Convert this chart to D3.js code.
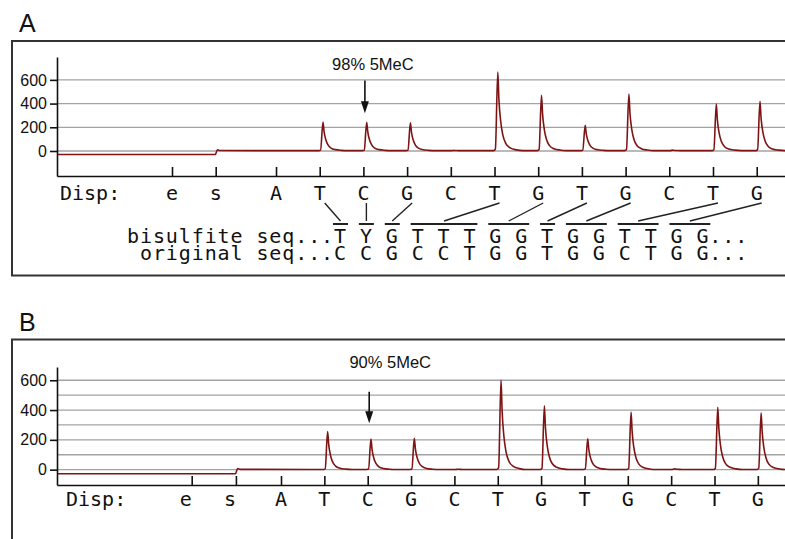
<!DOCTYPE html>
<html>
<head>
<meta charset="utf-8">
<script src="https://cdn.jsdelivr.net/npm/d3@7"></script>
<style>
  body { margin: 0; background: #fff; }
  svg { display: block; }
  .mono { font-family: "DejaVu Sans Mono", monospace; fill: #111; }
  .sans { font-family: "Liberation Sans", Arial, sans-serif; fill: #111; }
  .axis path, .axis line { stroke: #111; stroke-width: 1.6; }
  .axis text { font-family: "Liberation Sans", Arial, sans-serif; font-size: 16px; fill: #111; }
</style>
</head>
<body>
<script>
// dispensation order (same for both runs)
var dispOrder = ["e", "s", "A", "T", "C", "G", "C", "T", "G", "T", "G", "C", "T", "G"];

// dispensation times (in dispensation units)
var dispTimeA = [0, 1, 2.38, 3.38, 4.38, 5.38, 6.38, 7.38, 8.38, 9.38, 10.38, 11.38, 12.38, 13.38];
var dispTimeB = [0, 1.02, 2.06, 3.06, 4.06, 5.06, 6.06, 7.06, 8.06, 9.06, 10.06, 11.06, 12.06, 13.06];

// peak heights per dispensation
var peakA = [0, 0, 0, 242, 240, 235, 2, 664, 467, 213, 478, 4, 394, 416];
var peakB = [0, 0, 0, 255, 204, 210, 2, 600, 427, 206, 385, 4, 418, 380];

// baseline before / after substrate
var baseA = [-30, 3];
var baseB = [-27, 1];

// y axis
var yTickLabels = [0, 200, 400, 600];
var gridA = [0, 200, 400, 600];
var gridB = [0, 100, 200, 300, 400, 500, 600];

var methLabelA = "98% 5MeC";
var methLabelB = "90% 5MeC";

// sequences under panel A
var bisulfiteSeq = ["T", "Y", "G", "T", "T", "T", "G", "G", "T", "G", "G", "T", "T", "G", "G"];
var originalSeq = ["C", "C", "G", "C", "C", "T", "G", "G", "T", "G", "G", "C", "T", "G", "G"];
// which bases each incorporated dispensation accounts for: [first, last, dispensation index]
var barGroups = [[0, 0, 3], [1, 1, 4], [2, 2, 5], [3, 5, 7], [6, 7, 8], [8, 8, 9], [9, 10, 10], [11, 12, 12], [13, 14, 13]];

// peak shape template (time offset, fraction of height)
var peakShape = [[-0.02, 0], [0.02, 0.02], [0.075, 1], [0.1, 0.66], [0.14, 0.38], [0.19, 0.2],
                 [0.26, 0.09], [0.36, 0.035], [0.5, 0.01], [0.65, 0]];

var W = 785, H = 539;
var svg = d3.select("body").append("svg").attr("width", W).attr("height", H);
svg.append("rect").attr("width", W).attr("height", H).attr("fill", "#fff");

function drawPanel(p) {
  var g = svg.append("g");

  // frame
  g.append("rect")
    .attr("x", 12).attr("y", p.frameTop)
    .attr("width", 800).attr("height", p.frameH)
    .attr("fill", "none").attr("stroke", "#333").attr("stroke-width", 2);

  g.append("text").attr("class", "sans")
    .attr("x", 19).attr("y", p.frameTop - 9)
    .style("font-size", "25px")
    .text(p.letter);

  var left = 57, right = 790;
  var x = d3.scaleLinear()
    .domain([(left - p.t0px) / p.unit, (right - p.t0px) / p.unit])
    .range([left, right]);
  var y = d3.scaleLinear().domain(p.yDomain).range([p.bottom, p.top]);

  // gridlines
  g.selectAll(".grid").data(p.grid).enter().append("line")
    .attr("x1", left).attr("x2", W)
    .attr("y1", function(d) { return y(d); })
    .attr("y2", function(d) { return y(d); })
    .attr("stroke", "#a3a3a3").attr("stroke-width", 1.3);

  // trace
  var tS = p.times[1];
  var pts = [[x.domain()[0], p.base[0]], [tS - 0.01, p.base[0]], [tS + 0.04, p.base[1] + 7], [tS + 0.1, p.base[1] + 1]];
  p.times.forEach(function(t, i) {
    if (i < 2 || p.peaks[i] <= 0) return;
    peakShape.forEach(function(s) { pts.push([t + s[0], p.base[1] + p.peaks[i] * s[1]]); });
  });
  pts.push([x.domain()[1], p.base[1]]);

  var line = d3.line()
    .x(function(d) { return x(d[0]); })
    .y(function(d) { return y(d[1]); })
    .curve(d3.curveMonotoneX);

  g.append("path").datum(pts)
    .attr("d", line)
    .attr("fill", "none")
    .attr("stroke", "#7d1414")
    .attr("stroke-width", 1.6)
    .attr("stroke-linejoin", "round");

  // axes
  g.append("g").attr("class", "axis")
    .attr("transform", "translate(0," + p.bottom + ")")
    .call(d3.axisBottom(x).tickValues(p.times).tickSize(-9).tickSizeOuter(0).tickFormat(""));

  g.append("g").attr("class", "axis")
    .attr("transform", "translate(" + left + ",0)")
    .call(d3.axisLeft(y).tickValues(yTickLabels).tickSize(7).tickSizeOuter(0));

  // dispensation row
  g.append("text").attr("class", "mono")
    .attr("x", p.dispX).attr("y", p.dispY)
    .style("font-size", "20px")
    .text("Disp:");
  g.selectAll(".disp").data(dispOrder).enter().append("text")
    .attr("class", "mono")
    .attr("x", function(d, i) { return x(p.times[i]) + (i < 2 ? p.esShift : 0); })
    .attr("y", p.dispY)
    .attr("text-anchor", "middle")
    .style("font-size", "20px")
    .text(function(d) { return d; });

  // methylation arrow on the C dispensation
  var ax = x(p.times[4]) + 1.5;
  var aTop = y(p.arrow[0]), aTip = y(p.arrow[1]);
  g.append("line")
    .attr("x1", ax).attr("x2", ax).attr("y1", aTop).attr("y2", aTip - 8)
    .attr("stroke", "#111").attr("stroke-width", 1.6);
  g.append("path")
    .attr("d", "M" + (ax - 4) + "," + (aTip - 12) + "L" + (ax + 4) + "," + (aTip - 12) + "L" + ax + "," + aTip + "Z")
    .attr("fill", "#111");
  g.append("text").attr("class", "sans")
    .attr("x", ax + p.labelDx).attr("y", aTop + p.labelDy)
    .attr("text-anchor", "middle")
    .style("font-size", "16.5px")
    .text(p.label);

  return x;
}

var xA = drawPanel({
  letter: "A", frameTop: 41, frameH: 234.5,
  top: 57, bottom: 176, yDomain: [-211, 793],
  t0px: 172, unit: 43.7,
  times: dispTimeA, peaks: peakA, base: baseA, grid: gridA,
  dispX: 60, dispY: 200, esShift: 0,
  arrow: [595, 318], label: methLabelA, labelDx: 8, labelDy: -10
});

drawPanel({
  letter: "B", frameTop: 339.5, frameH: 300,
  top: 367, bottom: 485, yDomain: [-103, 689],
  t0px: 191.7, unit: 43.35,
  times: dispTimeB, peaks: peakB, base: baseB, grid: gridB,
  dispX: 66, dispY: 506, esShift: -6,
  arrow: [523, 311], label: methLabelB, labelDx: 21, labelDy: -23.4
});

// sequence rows under panel A
var cellW = 12.94, seqX = 127;
var bisPrefix = "bisulfite seq...", origPrefix = "original seq...";
function letterX(k) { return seqX + (bisPrefix.length + 2 * k) * cellW + cellW / 2; }

svg.append("text").attr("class", "mono")
  .attr("x", seqX).attr("y", 242.5)
  .style("font-size", "20px").style("letter-spacing", "0.9px")
  .text(bisPrefix + bisulfiteSeq.join(" ") + "...");
svg.append("text").attr("class", "mono")
  .attr("x", seqX + (bisPrefix.length - origPrefix.length) * cellW).attr("y", 259.5)
  .style("font-size", "20px").style("letter-spacing", "0.9px")
  .text(origPrefix + originalSeq.join(" ") + "...");

// bars over bases and connectors to dispensations
svg.selectAll(".bar").data(barGroups).enter().append("line")
  .attr("x1", function(d) { return letterX(d[0]) - 7.5; })
  .attr("x2", function(d) { return letterX(d[1]) + 7.5; })
  .attr("y1", 224).attr("y2", 224)
  .attr("stroke", "#222").attr("stroke-width", 2);

svg.selectAll(".link").data(barGroups).enter().append("line")
  .attr("x1", function(d) { return d[2] === 4 ? letterX(d[0]) : xA(dispTimeA[d[2]]) + 5; })
  .attr("x2", function(d) { return (letterX(d[0]) + letterX(d[1])) / 2; })
  .attr("y1", 203).attr("y2", 221)
  .attr("stroke", "#222").attr("stroke-width", 1.4);
</script>
</body>
</html>
